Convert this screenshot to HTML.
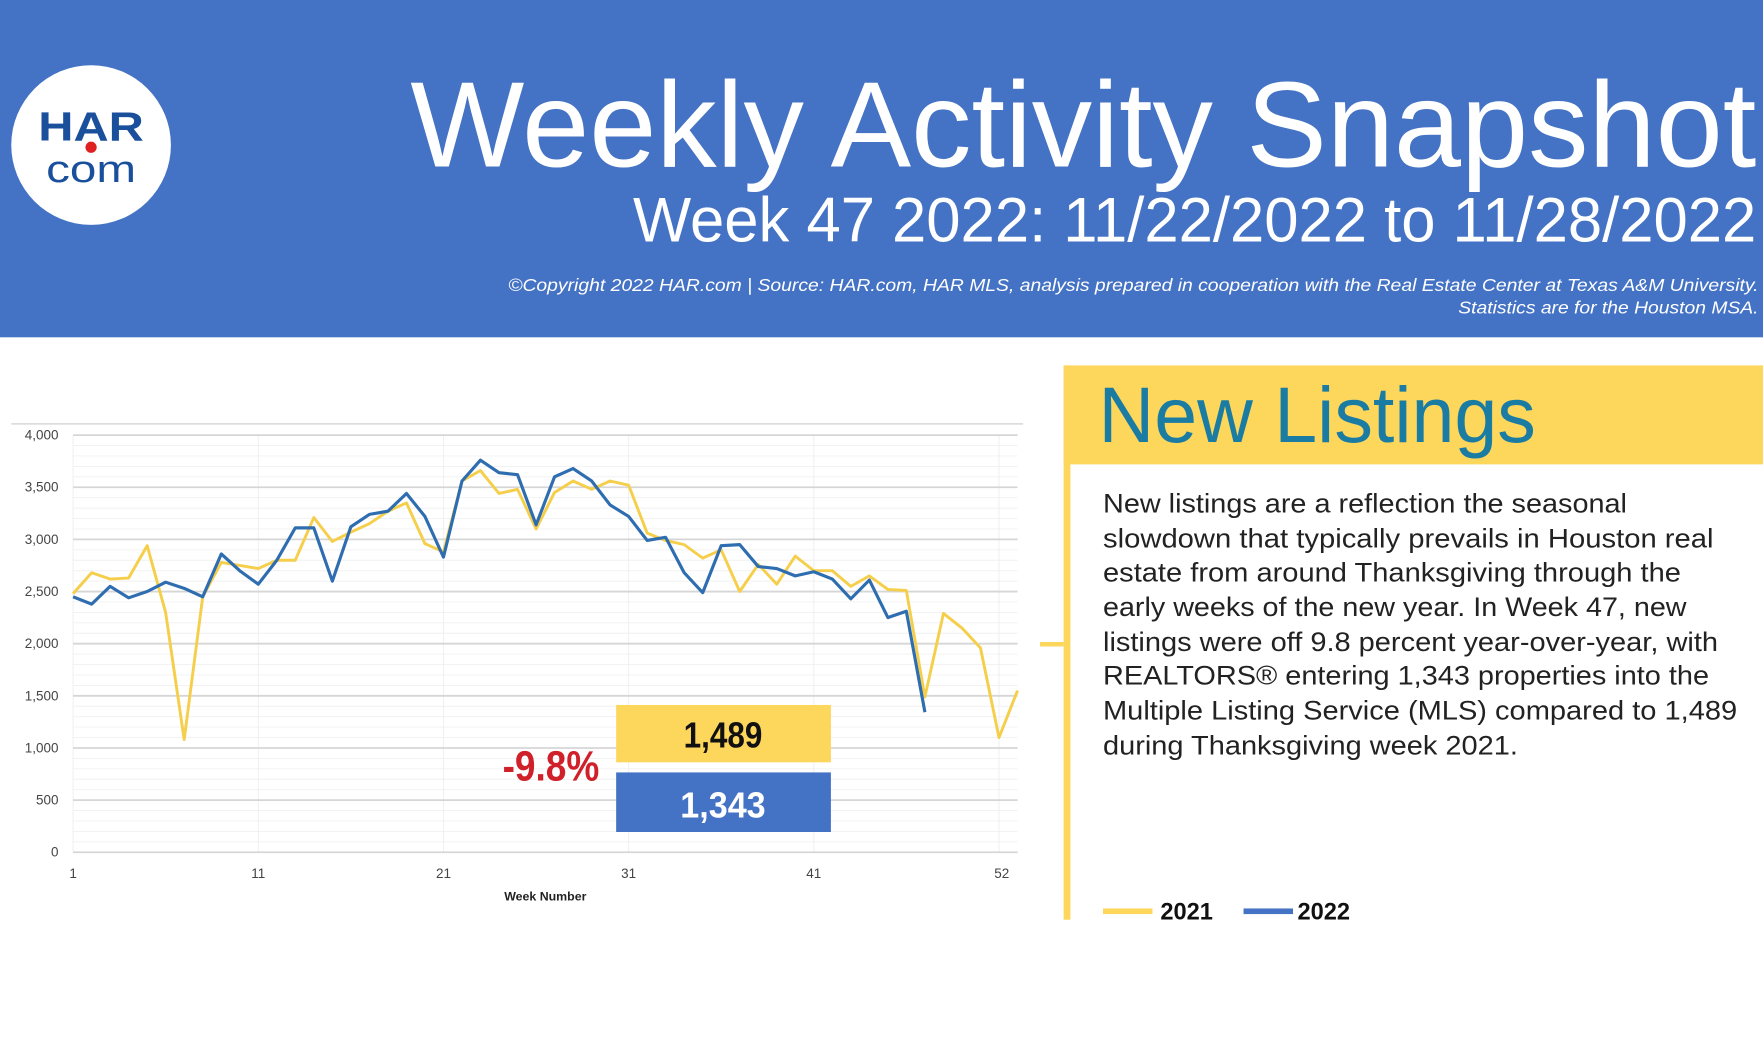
<!DOCTYPE html>
<html><head><meta charset="utf-8"><style>html,body{margin:0;padding:0;background:#fff;overflow:hidden}svg{display:block}</style></head>
<body>
<svg id="s" width="1763" height="1058" viewBox="0 0 1568 941" preserveAspectRatio="none" xmlns="http://www.w3.org/2000/svg" font-family="Liberation Sans, sans-serif">
<rect width="1568" height="941" fill="#fff"/>
<rect width="1568" height="300" fill="#4472c4"/>
<circle cx="81" cy="129" r="71" fill="#fff"/>
<text x="81" y="125" text-anchor="middle" font-size="36" font-weight="bold" fill="#1a4f9c" textLength="94" lengthAdjust="spacingAndGlyphs">HAR</text>
<circle cx="81" cy="131" r="5" fill="#e02020"/>
<text x="81" y="162" text-anchor="middle" font-size="34" fill="#1a4f9c" textLength="80" lengthAdjust="spacingAndGlyphs">com</text>
<text x="365" y="148" font-size="108" fill="#fff" textLength="1197" lengthAdjust="spacingAndGlyphs">Weekly Activity Snapshot</text>
<text x="563" y="215" font-size="56" fill="#fff" textLength="999" lengthAdjust="spacingAndGlyphs">Week 47 2022: 11/22/2022 to 11/28/2022</text>
<text x="452" y="259" font-size="16" font-style="italic" fill="#fff" textLength="1112" lengthAdjust="spacingAndGlyphs">©Copyright 2022 HAR.com  |  Source: HAR.com, HAR MLS, analysis prepared in cooperation with the Real Estate Center at Texas A&amp;M University.</text>
<text x="1297" y="279" font-size="16" font-style="italic" fill="#fff" textLength="267" lengthAdjust="spacingAndGlyphs">Statistics are for the Houston MSA.</text>
<line x1="10" y1="377" x2="910" y2="377" stroke="#ddd" stroke-width="1.5"/>
<g id="grid"></g>
<g id="lines"></g>
<text x="485" y="801" text-anchor="middle" font-size="11" font-weight="bold" fill="#222">Week Number</text>
<rect x="548" y="627" width="191" height="51" fill="#fdd65c"/>
<text x="643" y="665" text-anchor="middle" font-size="32" font-weight="bold" fill="#111" textLength="70" lengthAdjust="spacingAndGlyphs">1,489</text>
<rect x="548" y="687" width="191" height="53" fill="#4472c4"/>
<text x="643" y="727" text-anchor="middle" font-size="32" font-weight="bold" fill="#fff" textLength="76" lengthAdjust="spacingAndGlyphs">1,343</text>
<text x="447" y="694" font-size="38" font-weight="bold" fill="#d0202a" textLength="86" lengthAdjust="spacingAndGlyphs">-9.8%</text>
<rect x="946" y="325" width="622" height="88" fill="#fdd65c"/>
<rect x="946" y="325" width="6" height="493" fill="#fdd65c"/>
<rect x="925" y="571" width="21" height="4" fill="#fdd65c"/>
<text x="977" y="393" font-size="70" fill="#1a7ca3" textLength="389" lengthAdjust="spacingAndGlyphs">New Listings</text>
<g font-size="24" fill="#222">
<text x="981" y="456" textLength="466" lengthAdjust="spacingAndGlyphs">New listings are a reflection the seasonal</text>
<text x="981" y="487" textLength="543" lengthAdjust="spacingAndGlyphs">slowdown that typically prevails in Houston real</text>
<text x="981" y="517" textLength="514" lengthAdjust="spacingAndGlyphs">estate from around Thanksgiving through the</text>
<text x="981" y="548" textLength="519" lengthAdjust="spacingAndGlyphs">early weeks of the new year. In Week 47, new</text>
<text x="981" y="579" textLength="547" lengthAdjust="spacingAndGlyphs">listings were off 9.8 percent year-over-year, with</text>
<text x="981" y="609" textLength="539" lengthAdjust="spacingAndGlyphs">REALTORS® entering 1,343 properties into the</text>
<text x="981" y="640" textLength="564" lengthAdjust="spacingAndGlyphs">Multiple Listing Service (MLS) compared to 1,489</text>
<text x="981" y="671" textLength="369" lengthAdjust="spacingAndGlyphs">during Thanksgiving week 2021.</text>
</g>
<rect x="981" y="808" width="44" height="5" fill="#fdd65c"/>
<text x="1032" y="818" font-size="21" font-weight="bold" fill="#111">2021</text>
<rect x="1106" y="808" width="44" height="5" fill="#4472c4"/>
<text x="1154" y="818" font-size="21" font-weight="bold" fill="#111">2022</text>
</svg>
<script>
var NS="http://www.w3.org/2000/svg";
function el(p,t,a,txt){var e=document.createElementNS(NS,t);for(var k in a)e.setAttribute(k,a[k]);if(txt)e.textContent=txt;p.appendChild(e);return e;}
var g=document.getElementById('grid'),L=document.getElementById('lines');
function X(w){return 65+(w-1)*16.47;}function Y(v){return 758-v*0.09275;}
for(var v=0;v<=4000;v+=100){if(v%500)el(g,'line',{x1:65,x2:905,y1:Y(v),y2:Y(v),stroke:'#f0f0f0','stroke-width':0.8});}
for(var w=1;w<=52;w+=10){el(g,'line',{x1:X(w),x2:X(w),y1:Y(4000),y2:758,stroke:'#eee','stroke-width':0.8});}
for(var v=0;v<=4000;v+=500){el(g,'line',{x1:65,x2:905,y1:Y(v),y2:Y(v),stroke:'#d6d6d6','stroke-width':1.6});
el(g,'text',{x:52,y:Y(v)+4,'text-anchor':'end','font-size':12,fill:'#444'},v>=1000?(Math.floor(v/1000)+','+String(v%1000).padStart(3,'0')):String(v));}
[1,11,21,31,41].forEach(function(w){el(g,'text',{x:X(w),y:781,'text-anchor':'middle','font-size':12,fill:'#444'},String(w));});
el(g,'text',{x:891,y:781,'text-anchor':'middle','font-size':12,fill:'#444'},'52');
var a=[2480,2680,2620,2630,2940,2300,1080,2450,2780,2750,2720,2800,2800,3210,2980,3070,3150,3270,3350,2960,2880,3560,3660,3440,3480,3100,3450,3560,3480,3560,3520,3060,2990,2950,2820,2900,2500,2760,2570,2840,2700,2700,2550,2650,2520,2510,1489,2290,2150,1960,1100,1550];
var b=[2450,2380,2550,2440,2500,2590,2530,2450,2860,2700,2570,2800,3110,3110,2600,3120,3240,3270,3440,3220,2830,3560,3760,3640,3620,3140,3600,3680,3560,3330,3220,2990,3020,2680,2490,2940,2950,2740,2720,2650,2690,2620,2430,2610,2250,2310,1343];
function pts(d){return d.map(function(v,i){return X(i+1).toFixed(1)+','+Y(v).toFixed(1);}).join(' ');}
el(L,'polyline',{points:pts(a),fill:'none',stroke:'#f5cf4b','stroke-width':2.6,'stroke-linejoin':'round'});
el(L,'polyline',{points:pts(b),fill:'none',stroke:'#2e6db0','stroke-width':2.8,'stroke-linejoin':'round'});
</script>
</body></html>
